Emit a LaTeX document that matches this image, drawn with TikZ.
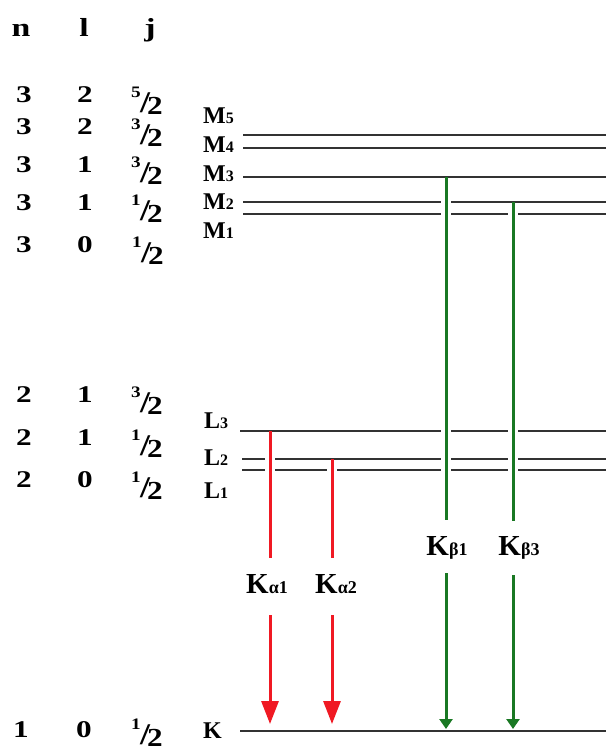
\documentclass[tikz,border=0pt]{standalone}
\usepackage{graphicx}
\usepackage{fontspec}
\setmainfont{Liberation Serif}
\usetikzlibrary{arrows.meta}
\definecolor{lvl}{RGB}{50,50,50}
\definecolor{kred}{RGB}{240,25,35}
\definecolor{kgreen}{RGB}{25,120,35}
\newcommand\widetxt[1]{\scalebox{1.3}[1]{#1}}
\newcommand\jfr[1]{\scalebox{1.2}[1]{\raisebox{5pt}[0pt][0pt]{\fontsize{16}{16}\selectfont #1}\kern-0.5pt\raisebox{-10pt}[8pt][0pt]{\fontsize{30}{30}\selectfont /}\kern-2.5pt\raisebox{-12pt}[0pt][0pt]{\fontsize{26}{26}\selectfont 2}}}
\newcommand\lsub[1]{{\fontsize{16}{16}\selectfont #1}}
\newcommand\ksub[1]{{\fontsize{18}{18}\selectfont #1}}
\begin{document}
\begin{tikzpicture}[x=1pt,y=-1pt,
  every node/.style={inner sep=0pt,anchor=base,font=\bfseries\fontsize{24}{24}\selectfont},
  hdr/.style={font=\bfseries\fontsize{26}{26}\selectfont},
  lbl/.style={anchor=base west,font=\bfseries\fontsize{24}{24}\selectfont},
  klbl/.style={font=\bfseries\fontsize{29}{29}\selectfont},
  level/.style={draw=lvl,line width=2.8pt},
  halo/.style={draw=white,line width=10pt,shorten <=4pt},
  redline/.style={draw=kred,line width=3pt},
  redarr/.style={draw=kred,line width=3pt,-{Triangle[length=23pt,width=17pt]}},
  grnline/.style={draw=kgreen,line width=3pt},
  grnarr/.style={draw=kgreen,line width=3pt,-{Triangle[length=10pt,width=13pt]}}]
\useasboundingbox[fill=white] (0,0) rectangle (606,751);

% headers
\node[hdr] (hn) at (21,37) {\widetxt{n}};
\node[hdr] (hl) at (84,37) {\widetxt{l}};
\node[hdr] (hj) at (150,37) {\widetxt{j}};

% M rows
\node (n1) at (24,103) {\widetxt{3}}; \node (l1) at (85,103) {\widetxt{2}}; \node (j1) at (147,103) {\jfr{5}};
\node (n2) at (24,135) {\widetxt{3}}; \node (l2) at (85,135) {\widetxt{2}}; \node (j2) at (147,135) {\jfr{3}};
\node (n3) at (24,173) {\widetxt{3}}; \node (l3) at (85,173) {\widetxt{1}}; \node (j3) at (147,173) {\jfr{3}};
\node (n4) at (24,211) {\widetxt{3}}; \node (l4) at (85,211) {\widetxt{1}}; \node (j4) at (147,211) {\jfr{1}};
\node (n5) at (24,252) {\widetxt{3}}; \node (l5) at (85,252) {\widetxt{0}}; \node (j5) at (148,252) {\jfr{1}};

% L rows
\node (n6) at (24,402) {\widetxt{2}}; \node (l6) at (85,402) {\widetxt{1}}; \node (j6) at (147,402) {\jfr{3}};
\node (n7) at (24,445) {\widetxt{2}}; \node (l7) at (85,445) {\widetxt{1}}; \node (j7) at (147,445) {\jfr{1}};
\node (n8) at (24,487) {\widetxt{2}}; \node (l8) at (85,487) {\widetxt{0}}; \node (j8) at (147,487) {\jfr{1}};

% K row
\node (n9) at (21,737) {\widetxt{1}}; \node (l9) at (84,737) {\widetxt{0}}; \node (j9) at (147,734) {\jfr{1}};

% shell labels
\node[lbl] (M5) at (203,124) {M\lsub{5}};
\node[lbl] (M4) at (203,153) {M\lsub{4}};
\node[lbl] (M3) at (203,182) {M\lsub{3}};
\node[lbl] (M2) at (203,210) {M\lsub{2}};
\node[lbl] (M1) at (203,238) {M\lsub{1}};
\node[lbl] (L3) at (204,428) {L\lsub{3}};
\node[lbl] (L2) at (204,465) {L\lsub{2}};
\node[lbl] (L1) at (204,498) {L\lsub{1}};
\node[lbl] (K)  at (203,738) {K};

% level line end points
\coordinate (m4aL) at (243,135); \coordinate (m4aR) at (606,135);
\coordinate (m4bL) at (243,148); \coordinate (m4bR) at (606,148);
\coordinate (m3L)  at (243,177); \coordinate (m3R)  at (606,177);
\coordinate (m2aL) at (243,202); \coordinate (m2aR) at (606,202);
\coordinate (m2bL) at (243,214); \coordinate (m2bR) at (606,214);
\coordinate (l3L)  at (240,431); \coordinate (l3R)  at (606,431);
\coordinate (l2aL) at (242,459); \coordinate (l2aR) at (606,459);
\coordinate (l2bL) at (242,470); \coordinate (l2bR) at (606,470);
\coordinate (kL)   at (240,731); \coordinate (kR)   at (606,731);

\foreach \a/\b in {m4aL/m4aR,m4bL/m4bR,m3L/m3R,m2aL/m2aR,m2bL/m2bR,l3L/l3R,l2aL/l2aR,l2bL/l2bR,kL/kR}
  \draw[level] (\a) -- (\b);

% arrow points
\coordinate (a1s) at (270,431); \coordinate (a1e) at (270,558);
\coordinate (a1l) at (270,615); \coordinate (a1t) at (270,724);
\coordinate (a2s) at (332,459); \coordinate (a2e) at (332,558);
\coordinate (a2l) at (332,615); \coordinate (a2t) at (332,724);
\coordinate (b1s) at (446,177); \coordinate (b1e) at (446,520);
\coordinate (b1l) at (446,573); \coordinate (b1t) at (446,729);
\coordinate (b3s) at (513,202); \coordinate (b3e) at (513,521);
\coordinate (b3l) at (513,575); \coordinate (b3t) at (513,729);

% halos (gaps in crossed levels)
\draw[halo] (a1s) -- (a1e);
\draw[halo] (a2s) -- (a2e);
\draw[halo] (b1s) -- (b1e);
\draw[halo] (b3s) -- (b3e);

% arrows
\draw[redline] (a1s) -- (a1e);
\draw[redarr]  (a1l) -- (a1t);
\draw[redline] (a2s) -- (a2e);
\draw[redarr]  (a2l) -- (a2t);
\draw[grnline] (b1s) -- (b1e);
\draw[grnarr]  (b1l) -- (b1t);
\draw[grnline] (b3s) -- (b3e);
\draw[grnarr]  (b3l) -- (b3t);

% transition labels
\node[klbl] (ka1) at (267,593) {K\ksub{α1}};
\node[klbl] (ka2) at (336,593) {K\ksub{α2}};
\node[klbl] (kb1) at (447,555) {K\ksub{β1}};
\node[klbl] (kb3) at (519,555) {K\ksub{β3}};
\end{tikzpicture}
\end{document}
